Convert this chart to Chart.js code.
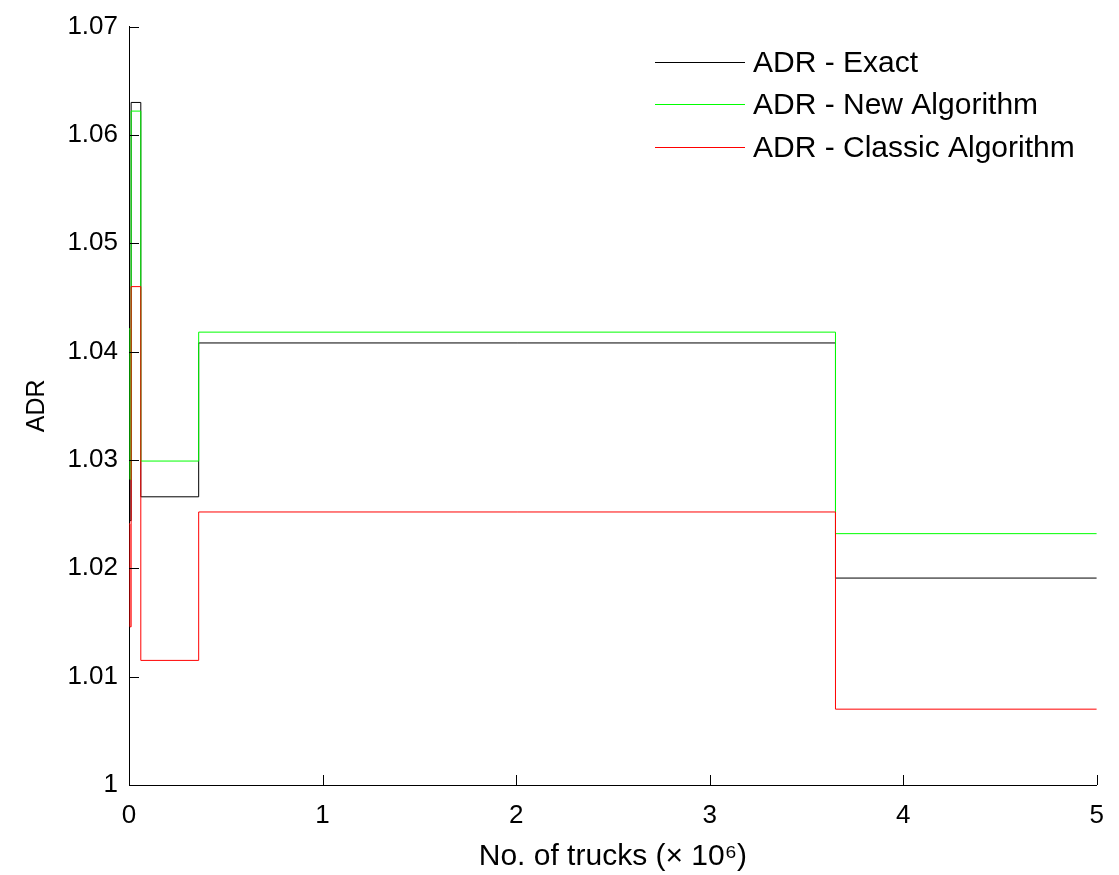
<!DOCTYPE html>
<html>
<head>
<meta charset="utf-8">
<script src="https://cdn.jsdelivr.net/npm/chart.js@4"></script>
<style>
  html, body { margin: 0; padding: 0; background: #fff; }
  #wrap { width: 1119px; height: 875px; }
</style>
</head>
<body>
<div id="wrap"><canvas id="chart" width="1119" height="875"></canvas></div>
<script>
// step positions (millions of trucks)
const truckSteps = [0, 0.005, 0.011, 0.061, 0.36, 3.65, 5]
const adrExact = [1.0282, 1.0244, 1.0630, 1.0266, 1.0408, 1.0191, 1.0191]
const adrNew = [1.0421, 1.0282, 1.0622, 1.0299, 1.0418, 1.0232, 1.0232]
const adrClassic = [1.0241, 1.0146, 1.0460, 1.0115, 1.0252, 1.0070, 1.0070]
const seriesNames = ["ADR - Exact", "ADR - New Algorithm", "ADR - Classic Algorithm"]
const seriesColors = ["#000000", "#00ff00", "#ff0000"]
const xTicks = [0, 1, 2, 3, 4, 5]
const yTicks = [1, 1.01, 1.02, 1.03, 1.04, 1.05, 1.06, 1.07]

const FONT = "Liberation Sans, Arial, Helvetica, sans-serif"

function toPoints(values) {
    return truckSteps.map((x, i) => ({x: x, y: values[i]}))
}

// matlab style ticks that point into the plot
const innerTicks = {
    id: "innerTicks",
    afterDraw(chart) {
        const ctx = chart.ctx
        const xs = chart.scales.x
        const ys = chart.scales.y
        const area = chart.chartArea
        ctx.save()
        ctx.strokeStyle = "#000"
        ctx.lineWidth = 1
        ctx.beginPath()
        xTicks.forEach(v => {
            let px = Math.round(xs.getPixelForValue(v)) + 0.5
            ctx.moveTo(px, area.bottom)
            ctx.lineTo(px, area.bottom - 10)
        })
        yTicks.forEach(v => {
            let py = Math.round(ys.getPixelForValue(v)) + 0.5
            ctx.moveTo(area.left, py)
            ctx.lineTo(area.left + 10, py)
        })
        ctx.stroke()
        ctx.restore()
    }
}

const lineLegend = {
    id: "lineLegend",
    afterDraw(chart) {
        const ctx = chart.ctx
        const rows = [62, 104, 147]
        ctx.save()
        ctx.font = "30px " + FONT
        ctx.textBaseline = "middle"
        seriesNames.forEach((name, i) => {
            ctx.fillStyle = seriesColors[i]
            ctx.fillRect(655, rows[i], 90, 1)
            ctx.fillStyle = "#000"
            ctx.fillText(name, 753, rows[i] + 2)
        })
        ctx.restore()
    }
}

const chartData = {
    datasets: [adrExact, adrNew, adrClassic].map((values, i) => ({
        label: seriesNames[i],
        data: toPoints(values),
        borderColor: seriesColors[i],
        borderWidth: 1,
        pointRadius: 0,
        stepped: "before",
        fill: false,
        tension: 0,
        order: 3 - i   // later series on top, like the original plot
    }))
}

const chartConfig = {
    type: "line",
    data: chartData,
    options: {
        responsive: false,
        animation: false,
        layout: { padding: { top: 20, right: 12, left: 0, bottom: 0 } },
        plugins: {
            legend: { display: false },
            tooltip: { enabled: false }
        },
        scales: {
            x: {
                type: "linear",
                min: 0,
                max: 5,
                grid: { drawOnChartArea: false, drawTicks: false },
                border: { color: "#000", width: 1 },
                ticks: {
                    stepSize: 1,
                    color: "#000",
                    padding: 15,
                    font: { family: FONT, size: 26 },
                    maxRotation: 0
                },
                title: {
                    display: true,
                    text: "No. of trucks (\u00d7 10\u2076)",
                    color: "#000",
                    font: { family: FONT, size: 30 },
                    padding: { top: 8, bottom: 0 }
                },
                afterFit: scale => { scale.height = 90 }
            },
            y: {
                type: "linear",
                min: 1,
                max: 1.07,
                grid: { drawOnChartArea: false, drawTicks: false },
                border: { color: "#000", width: 1 },
                ticks: {
                    stepSize: 0.01,
                    color: "#000",
                    padding: 11,
                    font: { family: FONT, size: 26 },
                    callback: v => Number(Number(v).toFixed(2)).toString()
                },
                title: {
                    display: true,
                    text: "ADR",
                    color: "#000",
                    font: { family: FONT, size: 25 },
                    padding: { top: 22, bottom: 0 }
                },
                afterFit: scale => { scale.width = 129 }
            }
        }
    },
    plugins: [innerTicks, lineLegend]
}

new Chart(document.getElementById("chart").getContext("2d"), chartConfig)
</script>
</body>
</html>
